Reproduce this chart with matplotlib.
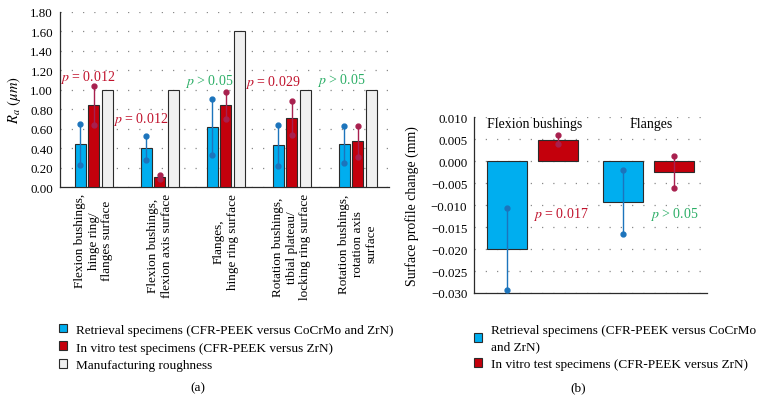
import numpy as np
import matplotlib
matplotlib.use("Agg")
import matplotlib.pyplot as plt
from matplotlib.patches import Patch
from matplotlib.ticker import FuncFormatter

# ---- data: panel (a) roughness Ra (um)
groups_a = ["Flexion bushings,\nhinge ring/\nflanges surface",
            "Flexion bushings,\nflexion axis surface",
            "Flanges,\nhinge ring surface",
            "Rotation bushings,\ntibial plateau/\nlocking ring surface",
            "Rotation bushings,\nrotation axis\nsurface"]
retrieval_a = [0.44, 0.40, 0.62, 0.43, 0.44]
retrieval_a_err = [0.21, 0.125, 0.285, 0.21, 0.19]
invitro_a = [0.84, 0.11, 0.84, 0.71, 0.47]
invitro_a_err = [0.20, 0.02, 0.14, 0.17, 0.16]
manufacturing_a = [1.00, 1.00, 1.60, 1.00, 1.00]
pvals_a = ["= 0.012", "= 0.012", "> 0.05", "= 0.029", "> 0.05"]

# ---- data: panel (b) surface profile change (mm)
groups_b = ["Flexion bushings", "Flanges"]
retrieval_b = [-0.0200, -0.0093]
retrieval_b_err = [0.0093, 0.0072]
invitro_b = [0.0049, -0.0024]
invitro_b_err = [0.0010, 0.0037]
pvals_b = ["= 0.017", "> 0.05"]

labels = ["Retrieval specimens (CFR-PEEK versus CoCrMo and ZrN)",
          "In vitro test specimens (CFR-PEEK versus ZrN)",
          "Manufacturing roughness"]

# ---- style
blue, blue_e = "#00AEEF", "#1C74BC"
red, red_e = "#C4000C", "#A8204E"
grey = "#F0F0F0"
edge = "#2b2b2b"
sig_red, sig_green = "#C0122C", "#2BAE66"

plt.rcParams.update({
    "font.family": ["Liberation Serif", "DejaVu Serif"],
    "mathtext.fontset": "stix",
    "font.size": 9.5,
})

fig = plt.figure(figsize=(7.62, 4.14), dpi=100)
W, H = 762, 414
def px_axes(x0, x1, ytop, ybot):
    return fig.add_axes([x0 / W, 1 - ybot / H, (x1 - x0) / W, (ybot - ytop) / H])

ax1 = px_axes(60, 389, 12.7, 188.3)
ax2 = px_axes(474.3, 706.7, 118.3, 294)


def style_axis(ax):
    for s in ["top", "right"]:
        ax.spines[s].set_visible(False)
    for s in ["left", "bottom"]:
        ax.spines[s].set_color(edge)
        ax.spines[s].set_linewidth(0.9)
    ax.tick_params(length=0, pad=5, labelsize=9.3)
    ax.yaxis.grid(True, color="#8a8a8a", linestyle=(0, (1, 8)), linewidth=0.9)
    ax.set_axisbelow(True)


def dot_errorbar(ax, x, y, err, color):
    eb = ax.errorbar(x, y, yerr=err, fmt="none", ecolor=color, elinewidth=1.0,
                     capsize=2, zorder=4)
    for cap in eb[1]:
        cap.set_marker("o")
        cap.set_markersize(3.5)
        cap.set_markerfacecolor(color)
        cap.set_markeredgecolor(color)


# ---- panel (a)
x = np.arange(len(groups_a))
bw, off = 0.167, 0.205
ax1.bar(x - off, retrieval_a, bw, color=blue, edgecolor=edge, linewidth=0.8, zorder=3)
ax1.bar(x, invitro_a, bw, color=red, edgecolor=edge, linewidth=0.8, zorder=3)
ax1.bar(x + off, manufacturing_a, bw, color=grey, edgecolor=edge, linewidth=0.8, zorder=3)
dot_errorbar(ax1, x - off, retrieval_a, retrieval_a_err, blue_e)
dot_errorbar(ax1, x, invitro_a, invitro_a_err, red_e)

ax1.set_xlim(-0.51, 4.475)
ax1.set_ylim(0, 1.8)
ax1.set_yticks(np.arange(0, 1.81, 0.2))
ax1.yaxis.set_major_formatter(FuncFormatter(lambda v, p: f"{v:.2f}"))
ax1.set_xticks([])
style_axis(ax1)
ax1.set_ylabel(r"$R_a$ $(\mu m)$", fontsize=10.5)
ax1.yaxis.set_label_coords(-0.112, 0.5)

for xi, lab in zip(x, groups_a):
    ax1.text(xi, -0.06, lab, rotation=90, ha="center", va="top",
             multialignment="center", fontsize=9.5, transform=ax1.transData)

pa_pos = [(-0.09, 1.135), (0.712, 0.71), (1.75, 1.094), (2.72, 1.084), (3.75, 1.10)]
for (px, py), pv in zip(pa_pos, pvals_a):
    c = sig_green if ">" in pv else sig_red
    ax1.text(px, py, f"$p$ {pv}", color=c, ha="center", va="center", fontsize=10)

# ---- panel (b)
xb = np.array([0.5, 1.5])
bw2, off2 = 0.344, 0.217
ax2.bar(xb - off2, retrieval_b, bw2, color=blue, edgecolor=edge, linewidth=0.8, zorder=3)
ax2.bar(xb + off2, invitro_b, bw2, color=red, edgecolor=edge, linewidth=0.8, zorder=3)
dot_errorbar(ax2, xb - off2, retrieval_b, retrieval_b_err, blue_e)
dot_errorbar(ax2, xb + off2, invitro_b, invitro_b_err, red_e)

ax2.set_xlim(0, 2.0)
ax2.set_ylim(-0.030, 0.010)
ax2.set_yticks(np.arange(-0.030, 0.0101, 0.005))
ax2.yaxis.set_major_formatter(FuncFormatter(lambda v, p: f"{v:.3f}".replace("-", "\u2212")))
ax2.set_xticks([])
style_axis(ax2)
ax2.set_ylabel("Surface profile change (mm)", fontsize=10)
ax2.yaxis.set_label_coords(-0.24, 0.5)

for xi, g in zip(xb, groups_b):
    ax2.text(xi + 0.02, 0.00865, g, ha="center", va="center", fontsize=10)
for xi, pv in zip([0.746, 1.72], pvals_b):
    c = sig_green if ">" in pv else sig_red
    ax2.text(xi, -0.0118, f"$p$ {pv}", color=c, ha="center", va="center", fontsize=10)

# ---- legends
def handles(colors):
    return [Patch(facecolor=c, edgecolor=edge, linewidth=0.8) for c in colors]

leg_kw = dict(frameon=False, loc="upper left", borderpad=0, borderaxespad=0,
              handlelength=0.65, handleheight=0.65, handletextpad=0.7,
              labelspacing=0.45, fontsize=9.5)
fig.legend(handles([blue, red, grey]), labels,
           bbox_to_anchor=(58.5 / W, 1 - 324.5 / H), **leg_kw)
leg_b = fig.legend(handles([blue, red]),
                   ["Retrieval specimens (CFR-PEEK versus CoCrMo\nand ZrN)", labels[1]],
                   bbox_to_anchor=(473.5 / W, 1 - 325 / H), **leg_kw)
for t in leg_b.get_texts():
    t.set_linespacing(1.45)

fig.text(197.7 / W, 1 - 388 / H, "(a)", ha="center", va="center", fontsize=9.5)
fig.text(578 / W, 1 - 388 / H, "(b)", ha="center", va="center", fontsize=9.5)

fig.savefig("out.png", dpi=100)
